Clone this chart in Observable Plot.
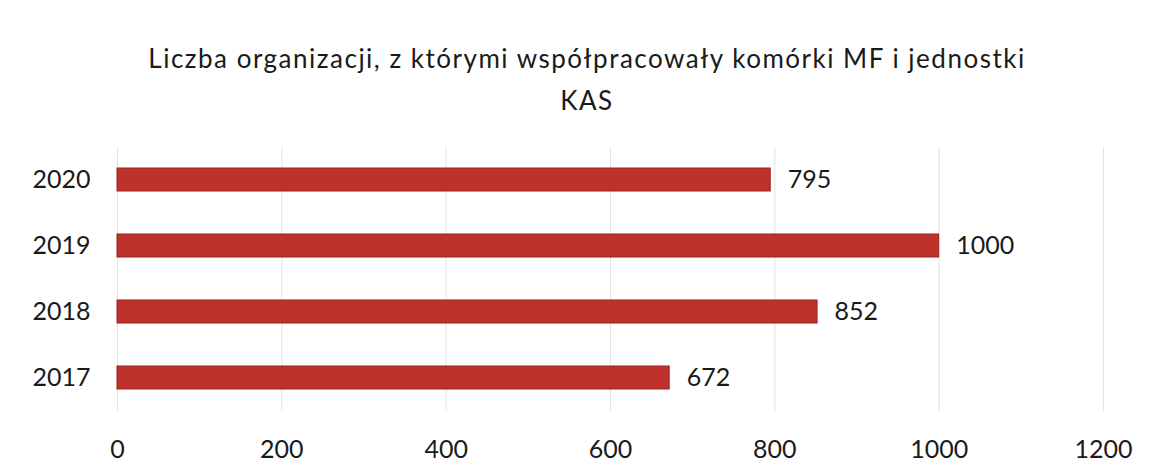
<!DOCTYPE html>
<html>
<head>
<meta charset="utf-8">
<script src="https://cdn.jsdelivr.net/npm/d3@7"></script>
<script src="https://cdn.jsdelivr.net/npm/@observablehq/plot@0.6"></script>
<style>
  html, body { margin: 0; padding: 0; background: #fff; }
  #wrap { width: 1152px; height: 473px; position: relative; font-family: Lato, "Open Sans", sans-serif; color: #1a1a1a; }
  #title { position: absolute; left: 0; top: 37px; width: 1174px; text-align: center; font-size: 26px; line-height: 42px; letter-spacing: 1.5px; }
  #chart { position: absolute; left: 0; top: 140px; }
</style>
</head>
<body>
<div id="wrap">
  <div id="title">Liczba organizacji, z którymi współpracowały komórki MF i jednostki<br>KAS</div>
  <div id="chart"></div>
</div>
<script>
const years = ["2020", "2019", "2018", "2017"];
const values = [795, 1000, 852, 672];
const xTicks = [0, 200, 400, 600, 800, 1000, 1200];

const data = years.map((y, i) => ({year: y, value: values[i]}));

const plot = Plot.plot({
  width: 1152,
  height: 333,
  marginLeft: 117,
  marginRight: 49,
  marginTop: 7,
  marginBottom: 62,
  style: {fontFamily: "Lato, 'Open Sans', sans-serif", fontSize: "25px", color: "#1a1a1a", background: "#fff"},
  x: {domain: [0, 1200], ticks: xTicks, label: null},
  y: {domain: years, paddingInner: 0.65, paddingOuter: 0.325, label: null},
  marks: [
    Plot.gridX(xTicks, {stroke: "#e2e2e2", strokeOpacity: 1, strokeWidth: 1}),
    Plot.barX(data, {x: "value", y: "year", fill: "#bf322c", stroke: "#962222", strokeWidth: 1}),
    Plot.text(data, {x: "value", y: "year", text: d => String(d.value), textAnchor: "start", dx: 17, fontSize: 25, fill: "#1a1a1a"}),
    Plot.axisX(xTicks, {tickSize: 0, tickPadding: 29, fontSize: 25, fill: "#1a1a1a", tickFormat: d => String(d)}),
    Plot.axisY({tickSize: 0, tickPadding: 27, fontSize: 25, fill: "#1a1a1a"})
  ]
});
document.getElementById("chart").appendChild(plot);
</script>
</body>
</html>
